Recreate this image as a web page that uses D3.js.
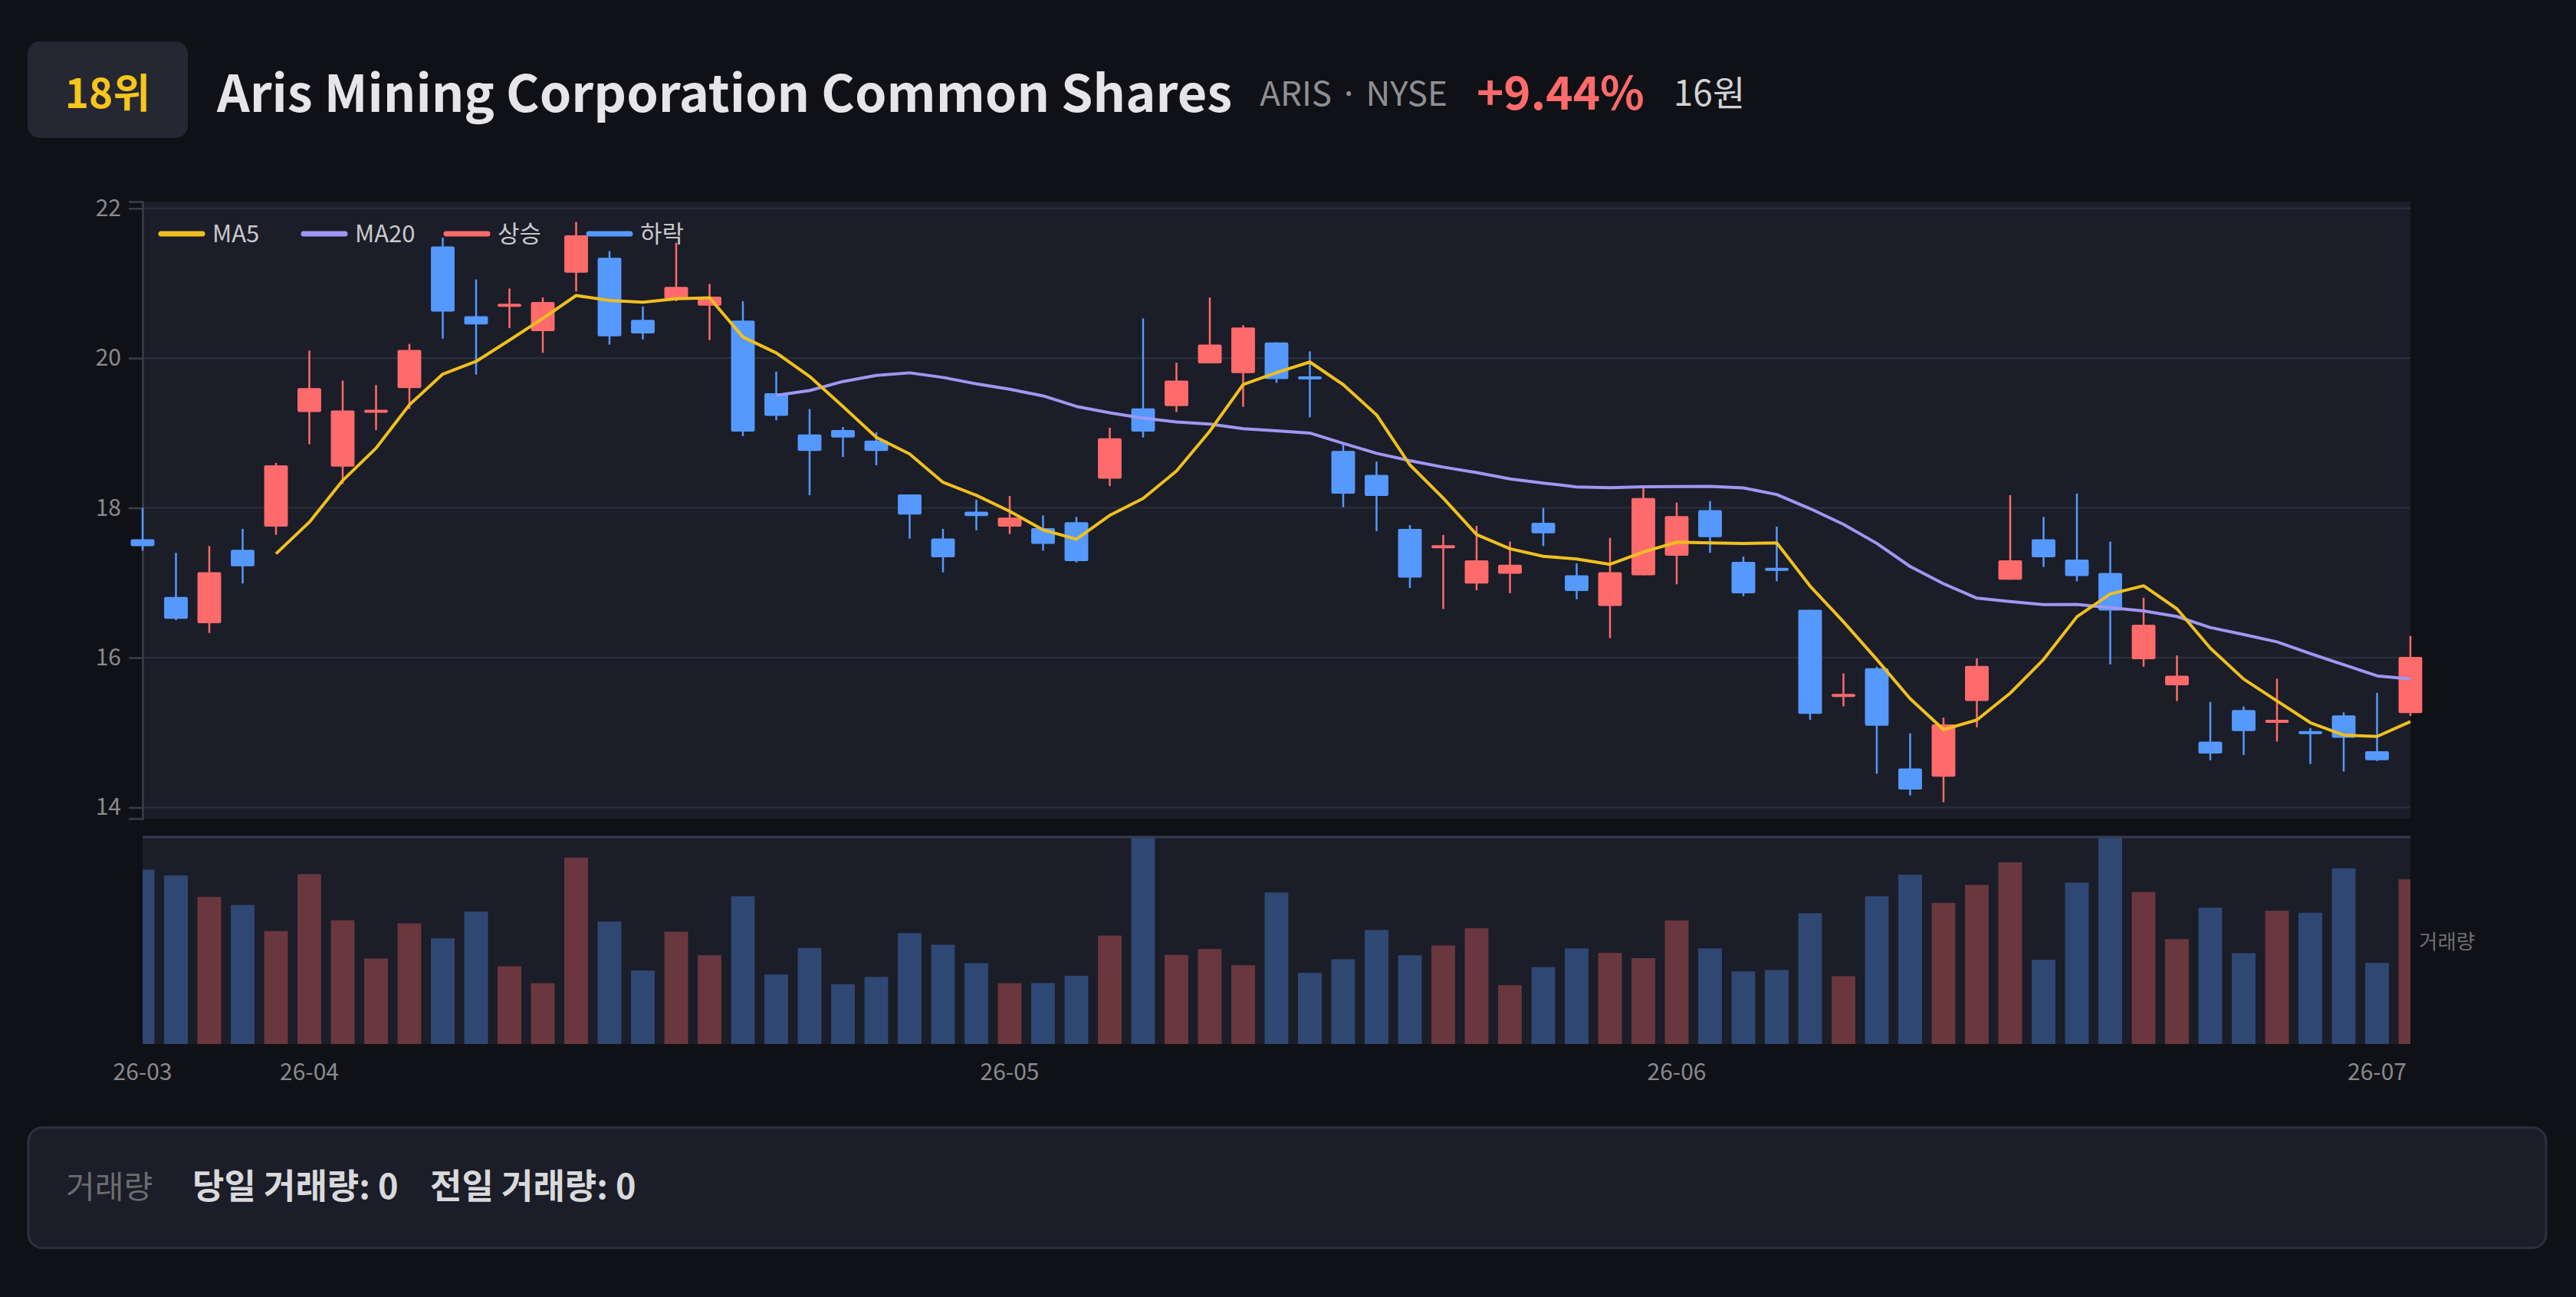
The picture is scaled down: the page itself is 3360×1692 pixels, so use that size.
<!DOCTYPE html>
<html>
<head>
<meta charset="utf-8">
<script src="https://cdn.jsdelivr.net/npm/d3@7"></script>
<style>
  html, body { margin: 0; padding: 0; background: #101116; }
  svg { display: block; }
  text { font-family: "Noto Sans CJK KR", "Noto Sans", sans-serif; }
</style>
</head>
<body>
<svg id="chart" width="3360" height="1692"></svg>
<script>
// ---------- data ----------
const dates = [
  "2026-03-25","2026-03-26","2026-03-27","2026-03-30","2026-03-31",
  "2026-04-01","2026-04-02","2026-04-06","2026-04-07","2026-04-08","2026-04-09","2026-04-10",
  "2026-04-13","2026-04-14","2026-04-15","2026-04-16","2026-04-17","2026-04-20","2026-04-21",
  "2026-04-22","2026-04-23","2026-04-24","2026-04-27","2026-04-28","2026-04-29","2026-04-30",
  "2026-05-01","2026-05-04","2026-05-05","2026-05-06","2026-05-07","2026-05-08","2026-05-11",
  "2026-05-12","2026-05-13","2026-05-14","2026-05-15","2026-05-18","2026-05-19","2026-05-20",
  "2026-05-21","2026-05-22","2026-05-26","2026-05-27","2026-05-28","2026-05-29",
  "2026-06-01","2026-06-02","2026-06-03","2026-06-04","2026-06-05","2026-06-08","2026-06-09",
  "2026-06-10","2026-06-11","2026-06-12","2026-06-15","2026-06-16","2026-06-17","2026-06-18",
  "2026-06-22","2026-06-23","2026-06-24","2026-06-25","2026-06-26","2026-06-29","2026-06-30",
  "2026-07-01","2026-07-02"
];
const opens  = [17.58,16.81,16.46,17.44,17.75,19.28,18.55,19.28,19.60,21.49,20.56,20.69,20.36,21.14,21.34,20.51,20.79,20.70,20.50,
                19.53,18.98,19.04,18.90,18.18,17.59,17.95,17.75,17.73,17.81,18.39,19.33,19.36,19.93,19.80,20.21,19.74,18.76,18.44,
                17.72,17.46,16.99,17.12,17.80,17.10,16.69,17.10,17.36,17.97,17.28,17.19,16.64,15.48,15.86,14.52,14.41,15.42,17.04,
                17.58,17.31,17.13,15.98,15.63,14.88,15.30,15.13,15.01,15.23,14.75,15.26];
const highs  = [18.00,17.40,17.49,17.72,18.60,20.10,19.70,19.64,20.19,21.61,21.05,20.93,20.81,21.82,21.43,20.69,21.54,20.99,20.76,
                19.82,19.32,19.08,19.01,18.18,17.72,18.11,18.16,17.90,17.88,19.07,20.53,19.94,20.81,20.44,20.21,20.09,18.86,18.62,
                17.77,17.64,17.76,17.55,18.00,17.26,17.60,18.27,18.07,18.09,17.35,17.75,16.64,15.79,15.88,14.99,15.20,15.99,18.17,
                17.88,18.19,17.55,16.80,16.03,15.41,15.35,15.72,15.06,15.27,15.53,16.29];
const lows   = [17.43,16.50,16.33,16.99,17.64,18.85,18.32,19.04,19.32,20.26,19.78,20.40,20.07,20.89,20.18,20.25,20.76,20.24,18.96,
                19.17,18.17,18.68,18.57,17.59,17.14,17.70,17.65,17.43,17.27,18.29,18.94,19.28,19.93,19.35,19.67,19.21,18.01,17.69,
                16.93,16.65,16.90,16.86,17.49,16.78,16.26,17.10,16.98,17.40,16.82,17.02,15.17,15.35,14.45,14.16,14.07,15.07,17.04,
                17.21,17.02,15.91,15.88,15.42,14.63,14.70,14.88,14.58,14.48,14.62,15.22];
const closes = [17.49,16.52,17.14,17.22,18.57,19.60,19.30,19.30,20.11,20.62,20.45,20.72,20.75,21.64,20.29,20.33,20.95,20.82,19.02,
                19.23,18.76,18.94,18.76,17.91,17.34,17.89,17.87,17.52,17.29,18.93,19.02,19.70,20.18,20.41,19.72,19.73,18.19,18.16,
                17.07,17.50,17.30,17.24,17.66,16.89,17.14,18.13,17.89,17.61,16.86,17.17,15.25,15.51,15.09,14.24,15.11,15.89,17.30,
                17.34,17.09,16.63,16.44,15.76,14.72,15.02,15.17,14.99,14.93,14.63,16.01];
const volumes = [843,815,711,672,546,821,598,413,583,511,640,376,294,901,592,355,543,429,714,
                 336,464,289,324,536,480,391,294,295,330,524,1000,431,459,381,732,344,410,551,
                 429,476,560,284,372,462,440,415,597,462,351,358,632,328,714,818,682,769,878,
                 407,780,998,735,507,659,439,644,634,849,392,796];
const priceTicks = [14, 16, 18, 20, 22];
const priceDomain = [13.85, 22.09];
const legendLabels = ["MA5", "MA20", "상승", "하락"];
const header = { rank: "18위", name: "Aris Mining Corporation Common Shares", ticker: "ARIS · NYSE", change: "+9.44%", price: "16원" };
const footer = { label: "거래량", today: "당일 거래량: 0", prev: "전일 거래량: 0" };

// ---------- style ----------
const C = {
  bg: "#101116", panel: "#1b1d28", grid: "#2a2d3a", axis: "#3b3e4a", tick: "#8a8a8e",
  up: "#ff6b6b", down: "#5599ff", ma5: "#f0c020", ma20: "#9f97f2", legend: "#c9c9cc"
};

// ---------- layout ----------
const L = 186, R = 3144;
const pTop = 263, pBot = 1068;
const vTop = 1090, vBot = 1362;

const svg = d3.select("#chart");
svg.append("rect").attr("width", 3360).attr("height", 1692).attr("fill", C.bg);

const idx = d3.range(dates.length);
const x = d3.scalePoint().domain(idx).range([L, R]);
const step = x.step();
const bodyW = step * 0.71;
const y = d3.scaleLinear().domain(priceDomain).range([pBot, pTop]);
const yv = d3.scaleLinear().domain([0, d3.max(volumes)]).range([vBot, vTop + 2]);

// ---------- header ----------
svg.append("rect").attr("x", 36).attr("y", 54).attr("width", 209).attr("height", 126).attr("rx", 16).attr("fill", "#252833");
svg.append("text").attr("x", 140.5).attr("y", 141).attr("text-anchor", "middle")
  .attr("font-size", 53).attr("font-weight", 700).attr("fill", "#f7c51c").text(header.rank);

let hx = 283;
const tTitle = svg.append("text").attr("x", hx).attr("y", 146).attr("font-size", 66.5).attr("font-weight", 700)
  .attr("fill", "#e6e6e8").text(header.name);
hx += tTitle.node().getComputedTextLength() + 36;
const tTicker = svg.append("text").attr("x", hx).attr("y", 138).attr("font-size", 44).attr("fill", "#8f8f93").text(header.ticker);
hx += tTicker.node().getComputedTextLength() + 38;
const tChg = svg.append("text").attr("x", hx).attr("y", 143).attr("font-size", 60).attr("font-weight", 700)
  .attr("fill", C.up).text(header.change);
hx += tChg.node().getComputedTextLength() + 38;
svg.append("text").attr("x", hx).attr("y", 138).attr("font-size", 46).attr("fill", "#d2d2d4").text(header.price);

// ---------- price panel ----------
svg.append("rect").attr("x", L).attr("y", pTop).attr("width", R - L).attr("height", pBot - pTop).attr("fill", C.panel);

svg.append("g").selectAll("line").data(priceTicks).join("line")
  .attr("x1", L).attr("x2", R).attr("y1", d => y(d)).attr("y2", d => y(d))
  .attr("stroke", C.grid).attr("stroke-width", 2.5);

const yAxis = svg.append("g").attr("transform", `translate(${L},0)`)
  .call(d3.axisLeft(y).tickValues(priceTicks).tickSize(18).tickSizeOuter(18).tickPadding(10).tickFormat(d3.format("d")));
yAxis.select(".domain").attr("stroke", C.axis).attr("stroke-width", 2.5);
yAxis.selectAll(".tick line").attr("stroke", C.axis).attr("stroke-width", 2.5);
yAxis.selectAll(".tick text").attr("fill", C.tick).attr("font-size", 30)
  .attr("font-family", "'Noto Sans CJK KR', 'Noto Sans', sans-serif");

// candles
const gC = svg.append("g");
const candle = gC.selectAll("g").data(idx).join("g");
const col = i => closes[i] >= opens[i] ? C.up : C.down;
candle.append("line")
  .attr("x1", i => x(i)).attr("x2", i => x(i))
  .attr("y1", i => y(highs[i])).attr("y2", i => y(lows[i]))
  .attr("stroke", col).attr("stroke-width", 2.5);
candle.append("rect")
  .attr("x", i => x(i) - bodyW / 2).attr("width", bodyW)
  .attr("y", i => Math.min(y(opens[i]), y(closes[i])) - (Math.abs(y(opens[i]) - y(closes[i])) < 4 ? (4 - Math.abs(y(opens[i]) - y(closes[i]))) / 2 : 0))
  .attr("height", i => Math.max(4, Math.abs(y(opens[i]) - y(closes[i]))))
  .attr("rx", 2).attr("fill", col);

// moving averages
function ma(n) {
  return idx.map(i => i < n - 1 ? null : d3.mean(closes.slice(i - n + 1, i + 1)));
}
const ma5 = ma(5), ma20 = ma(20);
const lineGen = d3.line().defined(d => d.v != null).x(d => x(d.i)).y(d => y(d.v));
svg.append("path").datum(idx.map(i => ({ i, v: ma20[i] })))
  .attr("d", lineGen).attr("fill", "none").attr("stroke", C.ma20).attr("stroke-width", 4).attr("stroke-linejoin", "round");
svg.append("path").datum(idx.map(i => ({ i, v: ma5[i] })))
  .attr("d", lineGen).attr("fill", "none").attr("stroke", C.ma5).attr("stroke-width", 4).attr("stroke-linejoin", "round");

// legend
const legColors = [C.ma5, C.ma20, C.up, C.down];
const leg = svg.append("g").selectAll("g").data(legendLabels).join("g")
  .attr("transform", (d, i) => `translate(${207 + i * 186},305)`);
leg.append("line").attr("x1", 3).attr("x2", 57).attr("y1", 0).attr("y2", 0)
  .attr("stroke", (d, i) => legColors[i]).attr("stroke-width", 7).attr("stroke-linecap", "round");
leg.append("text").attr("x", 70).attr("y", 11).attr("font-size", 31).attr("fill", C.legend).text(d => d);

// ---------- volume panel ----------
svg.append("rect").attr("x", L).attr("y", vTop).attr("width", R - L).attr("height", vBot - vTop).attr("fill", C.panel);
svg.append("clipPath").attr("id", "vclip").append("rect").attr("x", L).attr("y", vTop).attr("width", R - L).attr("height", vBot - vTop);
svg.append("g").attr("clip-path", "url(#vclip)").selectAll("rect").data(idx).join("rect")
  .attr("x", i => x(i) - bodyW / 2).attr("width", bodyW)
  .attr("y", i => yv(volumes[i])).attr("height", i => vBot - yv(volumes[i]))
  .attr("fill", col).attr("fill-opacity", 0.35);
svg.append("line").attr("x1", L).attr("x2", R).attr("y1", vTop + 2).attr("y2", vTop + 2)
  .attr("stroke", "#363b52").attr("stroke-width", 3);
svg.append("text").attr("x", 3155).attr("y", 1238).attr("font-size", 26.5).attr("fill", "#6e6e72").text("거래량");

// x labels at month changes
const monthIdx = idx.filter(i => i === 0 || dates[i].slice(0, 7) !== dates[i - 1].slice(0, 7));
svg.append("g").selectAll("text").data(monthIdx).join("text")
  .attr("x", i => x(i)).attr("y", 1409).attr("text-anchor", "middle")
  .attr("font-size", 30).attr("fill", C.tick)
  .text(i => dates[i].slice(2, 7));

// ---------- footer ----------
svg.append("rect").attr("x", 37).attr("y", 1471).attr("width", 3284).attr("height", 157).attr("rx", 18)
  .attr("fill", "#1b1d28").attr("stroke", "#2d303e").attr("stroke-width", 3);
svg.append("text").attr("x", 86).attr("y", 1563).attr("font-size", 41).attr("fill", "#6c6c70").text(footer.label);
svg.append("text").attr("x", 251).attr("y", 1564).attr("font-size", 45).attr("font-weight", 700).attr("fill", "#d9d9db").text(footer.today);
svg.append("text").attr("x", 561).attr("y", 1564).attr("font-size", 45).attr("font-weight", 700).attr("fill", "#d9d9db").text(footer.prev);
</script>
</body>
</html>
